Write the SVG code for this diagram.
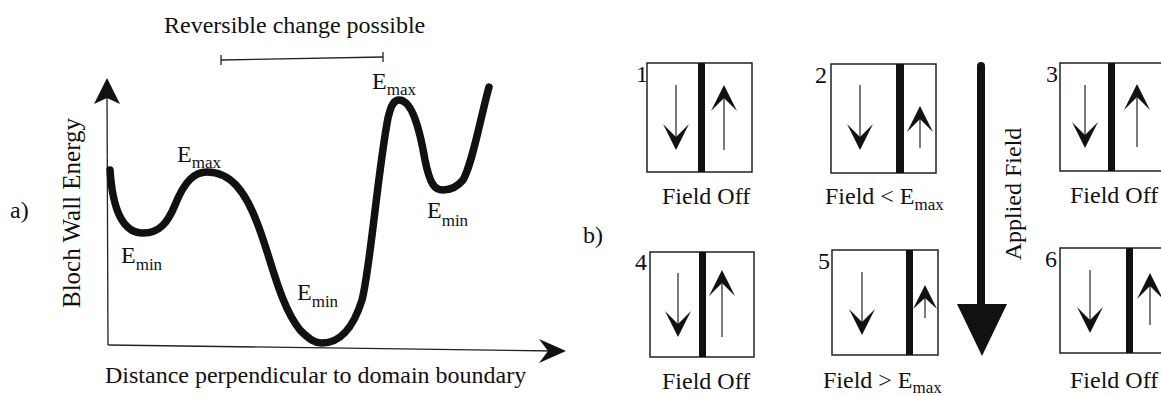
<svg xmlns="http://www.w3.org/2000/svg" xmlns:xlink="http://www.w3.org/1999/xlink" width="1161" height="396" viewBox="0 0 1161 396" font-family="'Liberation Serif', 'Times New Roman', Tinos, 'DejaVu Serif', serif">
<style>
  text { font-family: "Liberation Serif", "Times New Roman", Tinos, "DejaVu Serif", serif; font-size: 24px; fill: #111; }
  .sub { font-size: 17px; }
  .box { fill: #fff; stroke: #222; stroke-width: 1.5; }
  .wall { fill: #111; }
  .thin { stroke: #222; stroke-width: 1.2; fill: none; }
  .head { fill: #111; }
  .curve { fill: none; stroke: #111; stroke-width: 7.5; stroke-linecap: round; stroke-linejoin: round; }
  .axis { stroke: #222; stroke-width: 1.3; fill: none; }
</style>
<defs>
  <path id="dn" d="M0,0 L-13,-26 L0,-13 L13,-26 Z"/>
  <path id="up" d="M0,0 L-13,26 L0,13 L13,26 Z"/>
</defs>
<rect width="1161" height="396" fill="#fff"/>

<g id="panel-a">
  <text x="10" y="218">a)</text>
  <text x="164" y="33">Reversible change possible</text>
  <g id="reversible-bar" class="axis">
    <line x1="221" y1="60" x2="383" y2="57"/>
    <line x1="221" y1="55" x2="221" y2="65"/>
    <line x1="383" y1="52" x2="383" y2="62"/>
  </g>
  <g id="axes">
    <line class="axis" x1="107" y1="90" x2="108" y2="345"/>
    <line class="axis" x1="108" y1="345" x2="556" y2="351"/>
    <path class="head" d="M107,78 L94,104 L107,98 L120,104 Z"/>
    <path class="head" d="M566,351 L539,339 L548,351 L539,363 Z"/>
  </g>
  <text transform="translate(80,213) rotate(-90)" text-anchor="middle" style="font-size:25px">Bloch Wall Energy</text>
  <text x="105" y="383">Distance perpendicular to domain boundary</text>
  <path id="energy-curve" class="curve" d="M110,170 C113,215 125,233 143,233 C160,233 168,222 175,205 C185,180 195,172 207,172 C230,172 245,190 258,225 C272,262 280,305 300,330 C310,340 315,343 322,343 C338,343 352,332 362,300 C370,270 378,170 388,118 C391,105 394,100 399,100 C410,100 418,120 425,160 C430,185 435,190 443,190 C452,190 458,186 463,180 C472,165 480,120 489,87"/>
  <text x="121" y="263">E<tspan class="sub" dy="7">min</tspan></text>
  <text x="177" y="162">E<tspan class="sub" dy="6">max</tspan></text>
  <text x="297" y="300">E<tspan class="sub" dy="7">min</tspan></text>
  <text x="372" y="89">E<tspan class="sub" dy="6">max</tspan></text>
  <text x="427" y="218">E<tspan class="sub" dy="8">min</tspan></text>
</g>

<text id="label-b" x="583" y="243">b)</text>

<g id="box1">
  <rect class="box" x="647" y="63" width="105" height="109"/>
  <rect class="wall" x="698" y="63" width="7" height="109"/>
  <line class="thin" x1="676" y1="85" x2="676" y2="142"/>
  <use xlink:href="#dn" x="676" y="150" class="head"/>
  <line class="thin" x1="724" y1="150" x2="724" y2="95"/>
  <use xlink:href="#up" x="724" y="85" class="head"/>
  <text x="636" y="82">1</text>
  <text x="662" y="204">Field Off</text>
</g>

<g id="box2">
  <rect class="box" x="831" y="64" width="105" height="109"/>
  <rect class="wall" x="896" y="64" width="8" height="109"/>
  <line class="thin" x1="860" y1="85" x2="860" y2="142"/>
  <use xlink:href="#dn" x="860" y="150" class="head"/>
  <line class="thin" x1="920" y1="148" x2="920" y2="116"/>
  <use xlink:href="#up" x="920" y="106" class="head"/>
  <text x="815" y="83">2</text>
  <text x="825" y="204">Field &lt; E<tspan class="sub" dy="6">max</tspan></text>
</g>

<g id="box3">
  <rect class="box" x="1060" y="63" width="120" height="108"/>
  <rect class="wall" x="1108" y="63" width="7" height="108"/>
  <line class="thin" x1="1085" y1="85" x2="1085" y2="140"/>
  <use xlink:href="#dn" x="1085" y="148" class="head"/>
  <line class="thin" x1="1137" y1="147" x2="1137" y2="94"/>
  <use xlink:href="#up" x="1137" y="84" class="head"/>
  <text x="1046" y="82">3</text>
  <text x="1070" y="203">Field Off</text>
</g>

<g id="box4">
  <rect class="box" x="650" y="252" width="104" height="105"/>
  <rect class="wall" x="699" y="252" width="7" height="105"/>
  <line class="thin" x1="678" y1="273" x2="678" y2="329"/>
  <use xlink:href="#dn" x="678" y="337" class="head"/>
  <line class="thin" x1="722" y1="337" x2="722" y2="280"/>
  <use xlink:href="#up" x="722" y="270" class="head"/>
  <text x="635" y="270">4</text>
  <text x="662" y="389">Field Off</text>
</g>

<g id="box5">
  <rect class="box" x="832" y="250" width="106" height="105"/>
  <rect class="wall" x="906" y="250" width="7" height="105"/>
  <line class="thin" x1="862" y1="272" x2="862" y2="327"/>
  <use xlink:href="#dn" x="862" y="335" class="head"/>
  <line class="thin" x1="925" y1="318" x2="925" y2="294"/>
  <path class="head" d="M925,285 L913,309 L925,298 L937,309 Z"/>
  <text x="818" y="269">5</text>
  <text x="823" y="388">Field &gt; E<tspan class="sub" dy="5">max</tspan></text>
</g>

<g id="box6">
  <rect class="box" x="1060" y="248" width="120" height="105"/>
  <rect class="wall" x="1126" y="248" width="7" height="105"/>
  <line class="thin" x1="1090" y1="270" x2="1090" y2="325"/>
  <use xlink:href="#dn" x="1090" y="333" class="head"/>
  <line class="thin" x1="1150" y1="325" x2="1150" y2="283"/>
  <use xlink:href="#up" x="1150" y="273" class="head"/>
  <text x="1045" y="267">6</text>
  <text x="1070" y="388">Field Off</text>
</g>

<g id="connectors">
  <g id="applied-field">
    <rect x="977" y="62" width="8" height="246" rx="4" fill="#111"/>
    <path d="M957,304 L1007,304 L982,356 Z" fill="#111"/>
    <text transform="translate(1021,194) rotate(-90)" text-anchor="middle">Applied Field</text>
  </g>
</g>
</svg>
